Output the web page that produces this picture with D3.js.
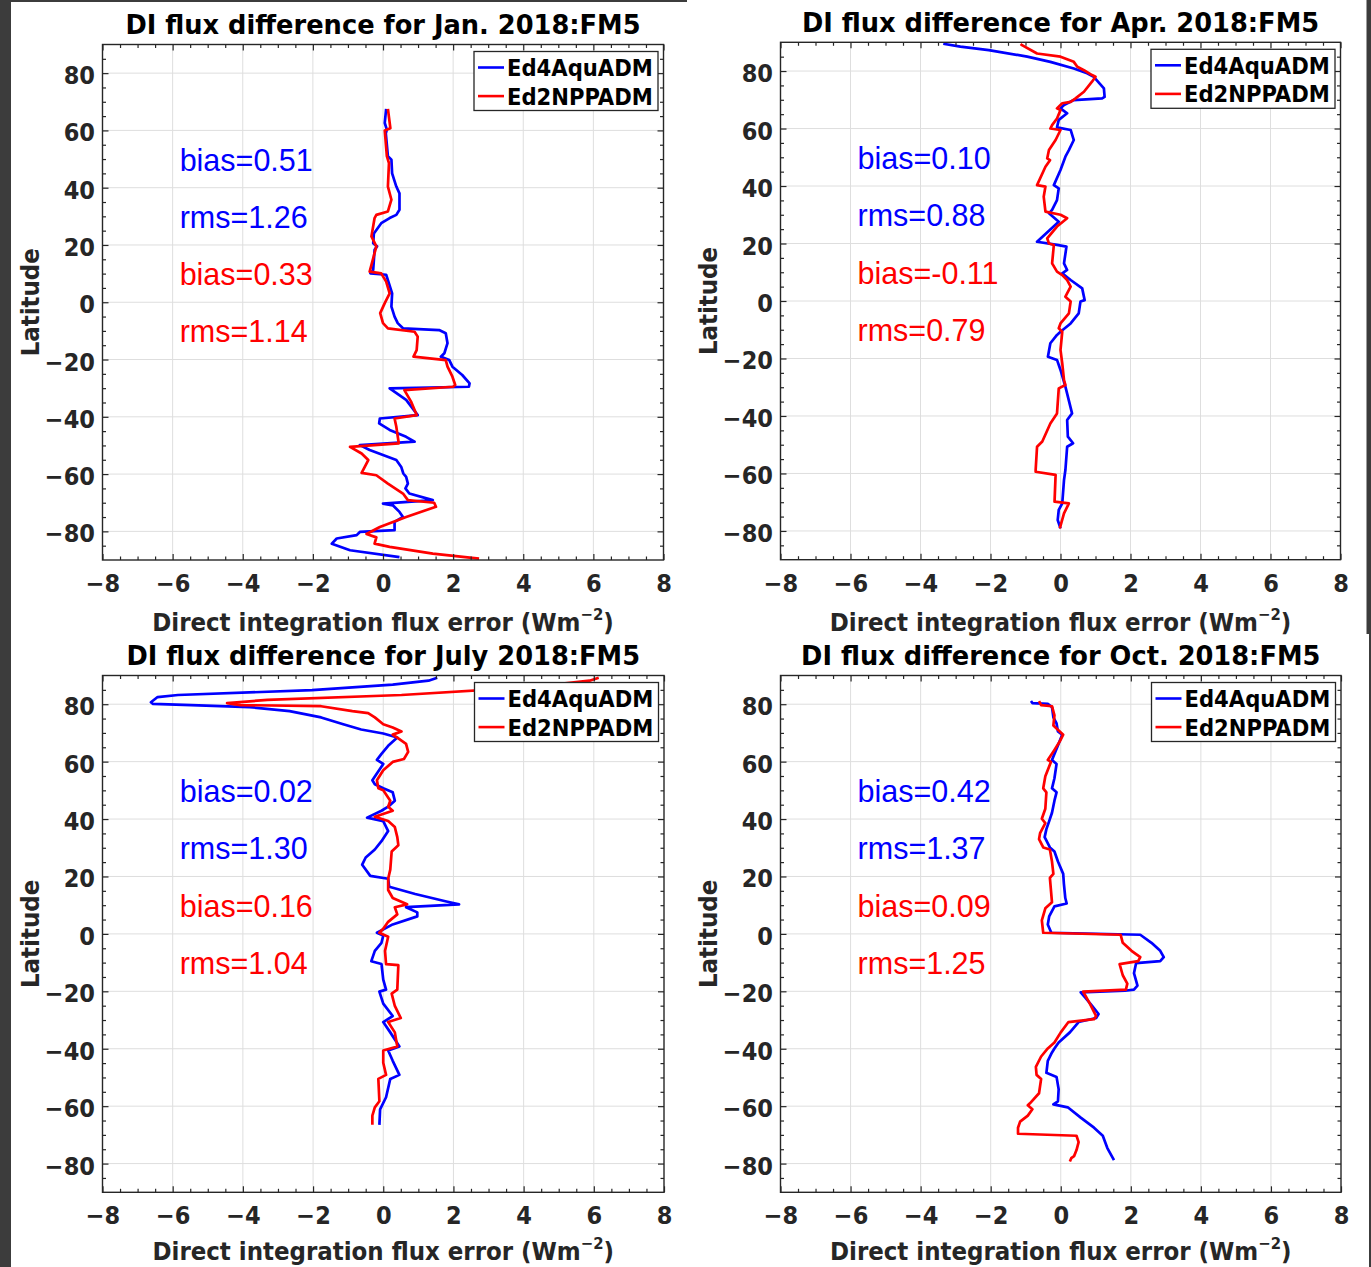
<!DOCTYPE html>
<html><head><meta charset="utf-8">
<script src="https://cdn.jsdelivr.net/npm/d3@7"></script>
<style>
html,body{margin:0;padding:0;background:#fff;}
svg{display:block;}
</style></head><body>
<svg id="c" width="1371" height="1267"></svg>
<script>
// ---------- data ----------
const xTicks = [-8,-6,-4,-2,0,2,4,6,8];
const yTicks = [-80,-60,-40,-20,0,20,40,60,80];
const seriesNames = ["Ed4AquADM","Ed2NPPADM"];
const titles = [
  "DI flux difference for Jan. 2018:FM5",
  "DI flux difference for Apr. 2018:FM5",
  "DI flux difference for July 2018:FM5",
  "DI flux difference for Oct. 2018:FM5"
];
// [flux error, latitude]
const janAqua = [[0.09,67.5],[0.05,62.6],[0.11,60.3],[0.08,59],[0.14,51],[0.24,49.8],[0.26,45],[0.38,40.4],[0.47,38],[0.47,32.3],[0.38,30.5],[0.19,29.4],[-0.05,27.6],[-0.26,24],[-0.28,20.6],[-0.17,19.5],[-0.24,18.3],[-0.28,11.3],[-0.36,10.1],[0.09,9.6],[0.17,6.6],[0.26,3.1],[0.24,-1.5],[0.33,-5],[0.42,-7.3],[0.57,-9.1],[1.6,-9.7],[1.79,-10.8],[1.84,-14.3],[1.75,-17.8],[1.65,-19],[1.89,-20.2],[1.98,-22.5],[2.26,-25.4],[2.47,-28.3],[2.45,-29.5],[0.19,-30.1],[0.66,-34.1],[0.99,-39.4],[-0.09,-40.6],[-0.11,-42.3],[0.19,-44.6],[0.66,-47],[0.9,-48.7],[-0.66,-49.9],[-0.38,-51.6],[0.38,-55.1],[0.52,-57.5],[0.58,-59.8],[0.66,-61],[0.71,-63.3],[0.64,-65],[0.75,-66.8],[1.42,-69.1],[0,-70.3],[0.28,-70.9],[0.47,-73.2],[0.57,-75],[0.33,-76.7],[0.33,-79.6],[-0.66,-80.2],[-0.75,-81.3],[-1.32,-82.5],[-1.46,-84.3],[-0.94,-86.6],[0.47,-89]];
const janNpp = [[0.14,67.5],[0.21,60.8],[0.05,60],[0.11,51],[0.17,48.6],[0.14,40.4],[0.24,35.8],[0.14,31.7],[-0.19,30.5],[-0.24,29.4],[-0.33,23],[-0.19,19.5],[-0.38,10.7],[-0.05,10.1],[0.09,7.2],[0.19,3.1],[0.05,-0.3],[-0.08,-3.8],[0,-7.3],[0.14,-9.1],[0.9,-10.3],[0.99,-12],[0.96,-16.7],[0.87,-19],[1.79,-20.2],[1.84,-22.5],[1.98,-26],[2.06,-28.9],[2.0,-29.5],[0.61,-30.7],[0.8,-34.7],[0.96,-39.4],[0.33,-40.6],[0.38,-43.5],[0.45,-49.3],[-0.94,-50.5],[-0.61,-52.8],[-0.42,-55.1],[-0.52,-57.5],[-0.61,-59.6],[-0.19,-60.4],[0.14,-63.3],[0.57,-66.8],[0.71,-69.1],[1.46,-70],[1.51,-71.4],[0.66,-75],[-0.09,-78.5],[-0.47,-80.9],[-0.19,-82.1],[-0.24,-84.3],[0.19,-85.4],[1.42,-87.8],[2.74,-89.5]];
const aprAqua = [[-3.35,89.5],[-2.86,88.5],[-2.05,87.3],[-0.95,85],[-0.29,83.2],[0.38,80.9],[0.76,79.2],[0.95,78],[1.24,74],[1.26,71],[1.19,70.5],[0.38,69.9],[0.1,68.2],[0,67],[0.19,65.3],[-0.05,63],[-0.1,60.4],[0.29,59.5],[0.38,56],[0.24,52.5],[0.14,50.2],[0,45.6],[-0.19,40.3],[-0.05,39.2],[-0.1,35.1],[-0.24,31.7],[-0.33,30.5],[-0.05,27.6],[-0.67,20.6],[-0.1,19.5],[0.17,18.9],[0.1,13.1],[0.19,10.8],[0.05,9.6],[0.29,7.3],[0.62,4.4],[0.69,0.3],[0.57,-0.2],[0.52,-4.3],[0.29,-7.8],[0,-10.7],[-0.1,-11.8],[-0.29,-14.7],[-0.36,-19.4],[-0.1,-20.5],[0,-24],[0.14,-29.8],[0.33,-39.1],[0.19,-41.4],[0.21,-47.2],[0.36,-49.5],[0.19,-50.7],[0.14,-58.8],[0.1,-62.3],[0.05,-70.4],[-0.05,-72.7],[-0.08,-76.2],[0,-79.1]];
const aprNpp = [[-1.14,89.4],[-1.1,89],[-0.67,86.1],[0,85],[0.38,83.2],[0.48,81.5],[0.67,80.3],[0.9,78.6],[1.0,78],[0.9,76.3],[0.67,72.8],[0.43,70.5],[0.29,69.3],[0.05,68.8],[-0.1,67],[0,66.4],[-0.1,63.5],[-0.24,61.2],[-0.29,60],[0,59.5],[-0.14,56],[-0.33,52.5],[-0.38,49.6],[-0.3,49],[-0.43,46.7],[-0.67,40.3],[-0.43,39.8],[-0.48,36.3],[-0.43,31.1],[0,30],[0.19,28.8],[-0.1,25.9],[-0.38,21.8],[-0.33,20],[-0.19,19.5],[-0.24,13.1],[-0.1,10.2],[0.05,9],[0.19,7.3],[0.29,5],[0.14,1.5],[0.29,-0.2],[0.24,-4.3],[0,-7.8],[-0.05,-9.5],[0.05,-10.7],[0,-17],[0.05,-21.7],[0.1,-27.5],[0.14,-29.2],[-0.05,-30.4],[-0.1,-39.1],[-0.29,-42.6],[-0.52,-48.9],[-0.67,-50.7],[-0.71,-58.8],[-0.71,-59.4],[-0.14,-60.5],[-0.17,-69.8],[0.24,-70.4],[0.1,-73.9],[-0.02,-79.1]];
const julAqua = [[1.54,89.2],[1.29,88.2],[0.27,86.8],[-2.03,84.9],[-5.85,83.2],[-6.43,82.5],[-6.62,80.7],[-6.56,80.1],[-5.47,79.7],[-3.81,79],[-2.67,77.6],[-1.77,75.4],[-1.14,73],[-0.63,71.2],[0,69.8],[0.4,68.4],[0.14,65.5],[-0.05,62.7],[-0.18,60.6],[0,59.2],[-0.31,53.5],[-0.24,52.1],[0,50.7],[0.27,49.3],[0.33,46.4],[0.14,44.3],[-0.05,42.9],[-0.46,40.5],[0,39.3],[0.14,35.8],[-0.05,32.3],[-0.24,29.4],[-0.5,26.6],[-0.6,24.1],[-0.37,20.2],[0.14,19.2],[0.17,16.4],[0.91,13.9],[1.8,11.3],[2.16,10.3],[0.65,9.3],[0.97,7.5],[0.97,6.1],[0.27,3.3],[-0.18,0.4],[0,-0.6],[-0.05,-3.1],[-0.24,-5.9],[-0.34,-9.5],[-0.05,-10.5],[0,-15.9],[0.08,-19.4],[-0.11,-20.1],[0,-24.3],[0.27,-28.6],[0,-30.7],[0.2,-34.3],[0.46,-39.2],[0.14,-40.6],[0.27,-44.2],[0.46,-49.1],[0.2,-50.5],[0.08,-56.9],[-0.09,-61.1],[-0.11,-66.5]];
const julNpp = [[6.14,89.2],[5.88,88.2],[4.35,86.1],[0.52,83.2],[-3.3,81.5],[-4.45,80.4],[-4.07,79.7],[-1.77,79.3],[-0.88,77.6],[-0.43,76.9],[-0.24,75.4],[0,73],[0.27,71.9],[0.52,70.5],[0.27,69.4],[0.45,67.9],[0.65,66.2],[0.71,63.4],[0.59,60.9],[0.27,59.9],[0,57],[-0.18,53.5],[-0.14,50.7],[0,50],[0.2,46.4],[0.14,44.3],[0.27,42.9],[-0.24,40.8],[0.14,39.3],[0.33,37.2],[0.4,33.7],[0.43,30.9],[0.24,28.7],[0.2,22.4],[0.14,19.2],[0.14,15.3],[0.27,12.5],[0.68,10.3],[0.33,9.3],[0.4,6.8],[0.14,4.2],[0,1.8],[-0.11,0.4],[0.14,-1],[0.05,-5.9],[0.08,-10.5],[0.43,-10.9],[0.4,-19.4],[0.24,-20.8],[0.33,-25.1],[0.5,-29.3],[0.14,-30.7],[0.33,-34.3],[0.4,-39.2],[0,-40.6],[0,-44.9],[0.08,-49.1],[-0.14,-50.5],[-0.11,-58.3],[-0.24,-60.4],[-0.31,-63.3],[-0.31,-66.5]];
const octAqua = [[-0.85,81.1],[-0.81,80.4],[-0.37,80.1],[-0.25,79],[-0.21,75.4],[-0.12,73.3],[-0.08,70.5],[0.04,69.4],[-0.06,66.2],[-0.18,62.7],[-0.25,60.6],[-0.12,59.2],[-0.18,54.2],[-0.25,50.7],[-0.12,49.3],[-0.18,46.4],[-0.25,42.2],[-0.33,39.3],[-0.41,36.5],[-0.46,33.7],[-0.31,30.1],[-0.18,28.7],[-0.08,25.2],[0.07,20.9],[0.09,17.4],[0.13,12.5],[0.17,10.6],[-0.18,9.6],[-0.33,6.1],[-0.37,3.3],[-0.27,0.4],[2.27,-0.3],[2.59,-3.1],[2.84,-5.9],[2.94,-8.1],[2.84,-9.5],[2.15,-10.2],[2.09,-13.7],[2.19,-18],[2.09,-19.4],[1.83,-19.8],[0.57,-20.4],[0.7,-22.2],[0.89,-25],[1.08,-27.9],[1.01,-29.3],[0.51,-30.7],[0.26,-34.3],[-0.06,-37.8],[-0.18,-39.9],[-0.25,-41.3],[-0.37,-44.2],[-0.41,-48.4],[-0.12,-49.8],[-0.06,-54.1],[-0.08,-58.3],[-0.21,-59.4],[0.2,-60.4],[0.57,-64],[0.95,-67.5],[1.2,-70.3],[1.33,-74.6],[1.52,-78.8]];
const octNpp = [[-0.62,81.1],[-0.56,79.7],[-0.25,79.3],[-0.18,76.1],[-0.21,72.6],[0.07,69.4],[-0.03,67],[-0.18,64.1],[-0.37,60.6],[-0.28,59.9],[-0.44,54.9],[-0.5,50.7],[-0.41,49.3],[-0.44,43.6],[-0.54,40.1],[-0.44,38.6],[-0.59,35.1],[-0.62,33],[-0.5,30.1],[-0.31,29.4],[-0.25,25.2],[-0.21,20.9],[-0.31,19.5],[-0.25,11],[-0.44,8.9],[-0.54,4.7],[-0.5,0.4],[1.71,-0.3],[1.77,-3.1],[2.02,-5.9],[2.27,-8.1],[2.21,-9.5],[1.68,-10.5],[1.77,-14.4],[1.9,-17.3],[1.86,-19.4],[0.64,-20.1],[0.83,-24.3],[1.01,-28.6],[0.95,-29.7],[0.22,-30.7],[0,-34.3],[-0.18,-37.8],[-0.37,-39.9],[-0.56,-42.7],[-0.71,-46.3],[-0.69,-49.1],[-0.56,-50.5],[-0.62,-55.5],[-0.88,-59],[-0.94,-59.7],[-0.81,-61.1],[-0.94,-63.3],[-1.16,-65.4],[-1.22,-67.5],[-1.22,-69.6],[0.45,-70.3],[0.51,-72.5],[0.45,-75.3],[0.38,-77.4],[0.3,-78.1],[0.26,-79.3]];
// statistics: [Ed4AquADM, Ed2NPPADM]
const janBias = [0.51, 0.33], janRms = [1.26, 1.14];
const aprBias = [0.10, -0.11], aprRms = [0.88, 0.79];
const julBias = [0.02, 0.16], julRms = [1.30, 1.04];
const octBias = [0.42, 0.09], octRms = [1.37, 1.25];

// ---------- layout ----------
const seriesColors = ["#0000ff","#ff0000"];
const layout = [
  {x0:102.5, x1:663.5, y0:44.5,  y1:560,    lab:70.8},
  {x0:780.5, x1:1340.5,y0:42.3,  y1:559.7,  lab:70.8},
  {x0:102.5, x1:664,   y0:675.5, y1:1192.3, lab:67.5},
  {x0:780.5, x1:1341,  y0:675.5, y1:1192.3, lab:67.5}
];
const panels = [
  {title:titles[0], series:[janAqua,janNpp], bias:janBias, rms:janRms},
  {title:titles[1], series:[aprAqua,aprNpp], bias:aprBias, rms:aprRms},
  {title:titles[2], series:[julAqua,julNpp], bias:julBias, rms:julRms},
  {title:titles[3], series:[octAqua,octNpp], bias:octBias, rms:octRms}
];
const statLat = [50,30,10,-10];
const statX = -5.8;
const BOLD = '"DejaVu Sans Condensed","DejaVu Sans",sans-serif';
const AX = "#262626";

const svg = d3.select("#c");
// screenshot frame strips
svg.append("rect").attr("x",0).attr("y",0).attr("width",11).attr("height",1267).attr("fill","#3c3c3c");
svg.append("rect").attr("x",0).attr("y",0).attr("width",687).attr("height",2).attr("fill","#3c3c3c");
svg.append("rect").attr("x",1366.5).attr("y",0).attr("width",5).attr("height",634).attr("fill","#3c3c3c");
svg.append("rect").attr("x",1369).attr("y",634).attr("width",2).attr("height",633).attr("fill","#3c3c3c");

const xMinor = d3.range(-8, 8.001, 0.5).filter(v => Math.abs(v % 2) > 1e-6);
const yMinor = d3.range(-85, 85.001, 5).filter(v => Math.abs(v % 20) > 1e-6);

panels.forEach((p, i) => {
  const L = layout[i];
  const x = d3.scaleLinear().domain([-8,8]).range([L.x0, L.x1]);
  const y = d3.scaleLinear().domain([-90,90]).range([L.y1, L.y0]);
  const g = svg.append("g");

  // grid
  g.append("g").selectAll("line").data(xTicks.slice(1,-1)).join("line")
    .attr("x1", d => x(d)).attr("x2", d => x(d)).attr("y1", L.y0).attr("y2", L.y1)
    .attr("stroke", "#dedede").attr("stroke-width", 1);
  g.append("g").selectAll("line").data(yTicks).join("line")
    .attr("y1", d => y(d)).attr("y2", d => y(d)).attr("x1", L.x0).attr("x2", L.x1)
    .attr("stroke", "#dedede").attr("stroke-width", 1);

  // data lines
  const cid = "clip" + i;
  svg.append("clipPath").attr("id", cid).append("rect")
    .attr("x", L.x0).attr("y", L.y0).attr("width", L.x1 - L.x0).attr("height", L.y1 - L.y0);
  const line = d3.line().x(d => x(d[0])).y(d => y(d[1]));
  p.series.forEach((s, k) => {
    g.append("path").attr("d", line(s)).attr("fill", "none")
      .attr("stroke", seriesColors[k]).attr("stroke-width", 2.7)
      .attr("stroke-linejoin", "round").attr("clip-path", `url(#${cid})`);
  });

  // axes
  const mk = (axis, tx, ty, vals, size, labels) => {
    const a = g.append("g").attr("transform", `translate(${tx},${ty})`)
      .call(axis.tickValues(vals).tickSize(size).tickSizeOuter(0).tickFormat(labels ? (d => d < 0 ? "\u2212" + (-d) : d) : ""));
    a.select(".domain").remove();
    a.attr("color", AX).attr("font-family", null).attr("font-size", null);
    a.selectAll("line").attr("stroke-width", 1.2);
    return a;
  };
  const xb = mk(d3.axisBottom(x), 0, L.y1, xTicks, -6, true);
  xb.selectAll("text").attr("y", 32).attr("dy", 0)
    .style("font-family", BOLD).style("font-weight", "bold").style("font-size", "25px").attr("fill", AX);
  mk(d3.axisTop(x), 0, L.y0, xTicks, -6, false);
  const yl = mk(d3.axisLeft(y), L.x0, 0, yTicks, -6, true);
  yl.selectAll("text").attr("x", -7.5).attr("dy", 0).attr("y", 10.5)
    .style("font-family", BOLD).style("font-weight", "bold").style("font-size", "25px").attr("fill", AX);
  mk(d3.axisRight(y), L.x1, 0, yTicks, -6, false);
  mk(d3.axisBottom(x), 0, L.y1, xMinor, -3.5, false);
  mk(d3.axisTop(x), 0, L.y0, xMinor, -3.5, false);
  mk(d3.axisLeft(y), L.x0, 0, yMinor, -3.5, false);
  mk(d3.axisRight(y), L.x1, 0, yMinor, -3.5, false);

  // box
  g.append("rect").attr("x", L.x0).attr("y", L.y0).attr("width", L.x1 - L.x0).attr("height", L.y1 - L.y0)
    .attr("fill", "none").attr("stroke", AX).attr("stroke-width", 1.4);

  // title
  g.append("text").attr("x", (L.x0 + L.x1) / 2).attr("y", L.y0 - 10.5).attr("text-anchor", "middle")
    .style("font-family", '"DejaVu Sans",sans-serif').style("font-weight", "bold").style("font-size", "25.7px")
    .attr("fill", "#000").text(p.title);

  // x label
  const xl = g.append("text").attr("x", (L.x0 + L.x1) / 2).attr("y", L.y1 + L.lab).attr("text-anchor", "middle")
    .style("font-family", BOLD).style("font-weight", "bold").style("font-size", "25.5px").attr("fill", AX);
  xl.append("tspan").text("Direct integration flux error (Wm");
  xl.append("tspan").attr("dy", -11).style("font-size", "16.5px").text("\u22122");
  xl.append("tspan").attr("dy", 11).text(")");

  // y label
  g.append("text").attr("transform", `translate(${L.x0 - 63.5},${(L.y0 + L.y1) / 2}) rotate(-90)`)
    .attr("text-anchor", "middle")
    .style("font-family", BOLD).style("font-weight", "bold").style("font-size", "25.5px").attr("fill", AX)
    .text("Latitude");

  // statistics
  const stats = [["bias", p.bias[0], 0], ["rms", p.rms[0], 0], ["bias", p.bias[1], 1], ["rms", p.rms[1], 1]];
  stats.forEach((s, j) => {
    g.append("text").attr("x", x(statX)).attr("y", y(statLat[j])).attr("dy", "0.38em")
      .style("font-family", '"Liberation Sans",Arial,sans-serif').style("font-size", "30.5px")
      .attr("fill", seriesColors[s[2]]).text(s[0] + "=" + s[1].toFixed(2));
  });

  // legend
  const lx = L.x1 - 189.5, ly = L.y0 + 7;
  g.append("rect").attr("x", lx).attr("y", ly).attr("width", 184).attr("height", 59)
    .attr("fill", "#fff").attr("stroke", AX).attr("stroke-width", 1.3);
  seriesNames.forEach((n, k) => {
    const yy = ly + 16 + k * 28.6;
    g.append("line").attr("x1", lx + 4).attr("x2", lx + 30).attr("y1", yy).attr("y2", yy)
      .attr("stroke", seriesColors[k]).attr("stroke-width", 2.6);
    g.append("text").attr("x", lx + 33).attr("y", yy + 8.5)
      .style("font-family", BOLD).style("font-weight", "bold").style("font-size", "23.5px")
      .attr("fill", "#000").text(n);
  });
});
</script>
</body></html>
